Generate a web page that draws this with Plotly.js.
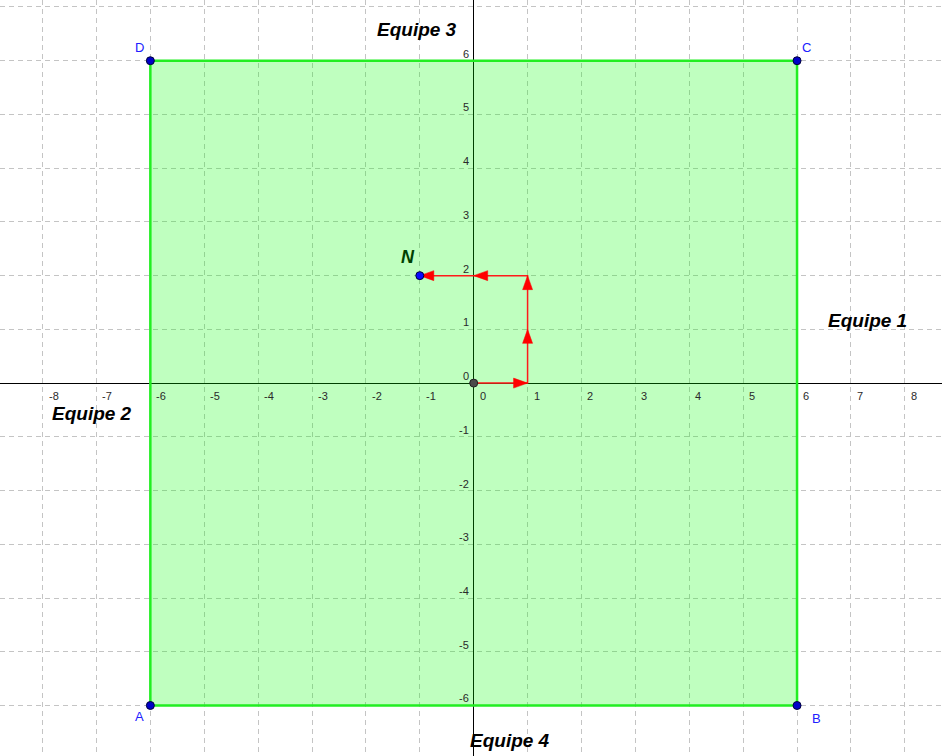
<!DOCTYPE html>
<html>
<head>
<meta charset="utf-8">
<script src="https://cdn.plot.ly/plotly-3.0.1.min.js"></script>
<style>html,body{margin:0;padding:0;background:#fff}#chart{width:942px;height:756px}</style>
</head>
<body>
<div id="chart"></div>
<script>
// ---- data ----
const squareX = [-6, 6, 6, -6];
const squareY = [-6, -6, 6, 6];
const squareLabels = ['A', 'B', 'C', 'D'];
const pathX = [0, 1, 1, -1];
const pathY = [0, 0, 2, 2];
const headFractions = [[1], [0.5, 1], [0.5, 1]];
const pointN = {x: -1, y: 2, label: 'N'};
const xTickVals = [-8, -7, -6, -5, -4, -3, -2, -1, 0, 1, 2, 3, 4, 5, 6, 7, 8];
const yTickVals = [-7, -6, -5, -4, -3, -2, -1, 0, 1, 2, 3, 4, 5, 6];
const teamLabels = ['Equipe 1', 'Equipe 2', 'Equipe 3', 'Equipe 4'];
const teamX = [7.31, -7.09, -1.06, 0.67];
const teamY = [1.17, -0.56, 6.59, -6.66];

// ---- layout constants ----
const W = 942, H = 756;
const xRange = [-8.79, 8.69];
const yRange = [-6.94, 7.13];
const pxX = W / (xRange[1] - xRange[0]);
const pxY = H / (yRange[1] - yRange[0]);

const traces = [];
// square
traces.push({
  x: squareX.concat([squareX[0]]), y: squareY.concat([squareY[0]]),
  mode: 'lines', fill: 'toself', fillcolor: 'rgba(0,255,0,0.25)',
  line: {color: '#22ee22', width: 2.5}, hoverinfo: 'skip', showlegend: false
});
// path
traces.push({
  x: pathX, y: pathY, mode: 'lines', line: {color: '#ff1a1a', width: 1.5},
  hoverinfo: 'skip', showlegend: false
});
// arrow heads
const L = 14, Hw = 5;
for (let i = 0; i < pathX.length - 1; i++) {
  const dxp = (pathX[i+1] - pathX[i]) * pxX, dyp = (pathY[i+1] - pathY[i]) * pxY;
  const len = Math.hypot(dxp, dyp), ux = dxp / len, uy = dyp / len;
  headFractions[i].forEach(f => {
    const tx = pathX[i] + f * (pathX[i+1] - pathX[i]);
    const ty = pathY[i] + f * (pathY[i+1] - pathY[i]);
    const bx = -ux * L, by = -uy * L;
    const px = -uy * Hw, py = ux * Hw;
    traces.push({
      x: [tx, tx + (bx + px) / pxX, tx + (bx - px) / pxX, tx],
      y: [ty, ty + (by + py) / pxY, ty + (by - py) / pxY, ty],
      mode: 'lines', fill: 'toself', fillcolor: '#ff0000',
      line: {color: '#ff0000', width: 0.5}, hoverinfo: 'skip', showlegend: false
    });
  });
}
// origin point
traces.push({x: [pathX[0]], y: [pathY[0]], mode: 'markers',
  marker: {size: 8, color: '#4a4a4a', line: {color: '#222', width: 1}}, showlegend: false, hoverinfo: 'skip'});
// square vertices
traces.push({x: squareX, y: squareY, mode: 'markers',
  marker: {size: 8, color: '#0000c8', line: {color: '#00003a', width: 1}}, showlegend: false, hoverinfo: 'skip'});
// N
traces.push({x: [pointN.x], y: [pointN.y], mode: 'markers',
  marker: {size: 8, color: '#0a0aff', line: {color: '#00003a', width: 1}}, showlegend: false, hoverinfo: 'skip'});

const annotations = [];
const tickFont = {family: 'Liberation Sans, Arial, sans-serif', size: 11, color: '#2a2a2a'};
xTickVals.forEach(v => annotations.push({x: v, y: 0, xref: 'x', yref: 'y', text: String(v), showarrow: false,
  xanchor: 'left', yanchor: 'middle', xshift: 4, yshift: -13, font: tickFont}));
yTickVals.forEach(v => annotations.push({x: 0, y: v, xref: 'x', yref: 'y', text: String(v), showarrow: false,
  xanchor: 'right', yanchor: 'middle', xshift: -3, yshift: 7, font: tickFont}));
// vertex labels
const vOff = [[-11, -11], [19, -13], [9, 13], [-11, 13]];
squareLabels.forEach((t, i) => annotations.push({x: squareX[i], y: squareY[i], xref: 'x', yref: 'y', text: t,
  showarrow: false, xshift: vOff[i][0], yshift: vOff[i][1],
  font: {family: 'Liberation Sans, Arial, sans-serif', size: 13, color: '#2020ff'}}));
annotations.push({x: pointN.x, y: pointN.y, xref: 'x', yref: 'y', text: '<b><i>' + pointN.label + '</i></b>',
  showarrow: false, xshift: -12, yshift: 19,
  font: {family: 'Liberation Sans, Arial, sans-serif', size: 18, color: '#004000'}});
teamLabels.forEach((t, i) => annotations.push({x: teamX[i], y: teamY[i], xref: 'x', yref: 'y',
  text: '<b><i>' + t + '</i></b>', showarrow: false,
  font: {family: 'Liberation Sans, Arial, sans-serif', size: 19, color: '#000'}}));

const axisCommon = {
  dtick: 1, tick0: 0, showticklabels: false, ticks: '',
  showgrid: true, gridcolor: '#c4c4c4', griddash: '5px,4px', gridwidth: 1,
  zeroline: true, zerolinecolor: '#000', zerolinewidth: 1,
  showline: false, fixedrange: true
};
const layout = {
  width: W, height: H, margin: {l: 0, r: 0, t: 0, b: 0},
  paper_bgcolor: '#fff', plot_bgcolor: '#fff',
  xaxis: Object.assign({}, axisCommon, {range: xRange}),
  yaxis: Object.assign({}, axisCommon, {range: yRange}),
  annotations: annotations, showlegend: false
};
Plotly.newPlot('chart', traces, layout, {displayModeBar: false, staticPlot: true});
</script>
</body>
</html>
